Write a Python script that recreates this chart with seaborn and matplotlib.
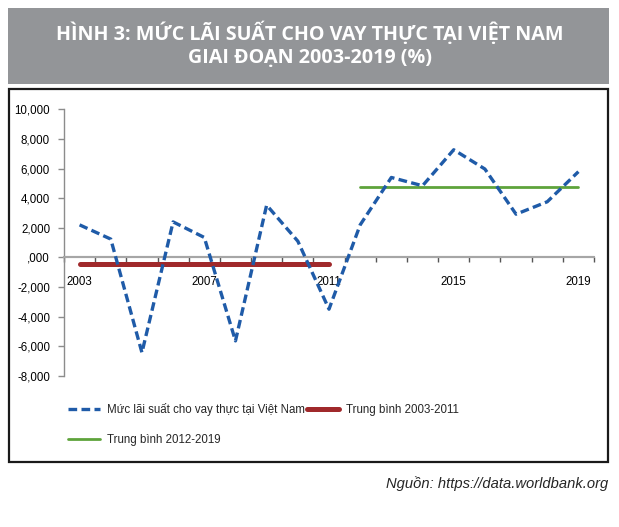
import matplotlib
matplotlib.use("Agg")
import matplotlib.pyplot as plt
from matplotlib.patches import Rectangle
from matplotlib.lines import Line2D
import numpy as np
import pandas as pd
import seaborn as sns

# ---------------- data ----------------
years = [2003, 2004, 2005, 2006, 2007, 2008, 2009, 2010, 2011,
         2012, 2013, 2014, 2015, 2016, 2017, 2018, 2019]
real_rate = [2.2, 1.24, -6.42, 2.4, 1.35, -5.63, 3.53, 1.1, -3.49,
             2.2, 5.4, 4.84, 7.27, 5.97, 2.92, 3.76, 5.79]
avg_2003_2011 = -0.41
avg_2012_2019 = 4.77
period1_years = years[0:9]
period2_years = years[9:]
x_label_years = [2003, 2007, 2011, 2015, 2019]
y_ticks = [-8, -6, -4, -2, 0, 2, 4, 6, 8, 10]
y_tick_labels = ["-8,000", "-6,000", "-4,000", "-2,000", ",000",
                 "2,000", "4,000", "6,000", "8,000", "10,000"]
series_label = "Mức lãi suất cho vay thực tại Việt Nam"
avg1_label = "Trung bình 2003-2011"
avg2_label = "Trung bình 2012-2019"
title_line1 = "HÌNH 3: MỨC LÃI SUẤT CHO VAY THỰC TẠI VIỆT NAM"
title_line2 = "GIAI ĐOẠN 2003-2019 (%)"
source_text = "Nguồn: https://data.worldbank.org"

# ---------------- styling ----------------
sns.set_theme(style="white")
plt.rcParams['font.family'] = ['Liberation Sans', 'DejaVu Sans']

W, H = 619, 527
fig = plt.figure(figsize=(W / 100, H / 100), dpi=100)
fig.patch.set_facecolor("white")

def fx(px):
    return px / W

def fy(py):
    return 1 - py / H

# title box
fig.patches.append(Rectangle((fx(8), fy(84)), fx(609) - fx(8), fy(8) - fy(84),
                             transform=fig.transFigure, facecolor="#939598",
                             edgecolor="none", zorder=0))
fig.text(0.5, fy(33), title_line1, ha="center", va="center", color="white",
         fontsize=14.2, fontweight="bold", family=['Open Sans', 'DejaVu Sans'])
fig.text(0.5, fy(58), title_line2, ha="center", va="center", color="white",
         fontsize=14.2, fontweight="bold", family=['Open Sans', 'DejaVu Sans'])

# chart frame
fig.patches.append(Rectangle((fx(9), fy(462)), fx(608) - fx(9), fy(89) - fy(462),
                             transform=fig.transFigure, facecolor="none",
                             edgecolor="#1a1a1a", linewidth=1.6, zorder=0))

# axes
ax = fig.add_axes([fx(64), fy(376), fx(594) - fx(64), fy(109.3) - fy(376)])
ax.set_facecolor("none")

pos = {y: i for i, y in enumerate(years)}
df = pd.DataFrame({"pos": [pos[y] for y in years], "rate": real_rate})
df1 = pd.DataFrame({"pos": [pos[y] for y in period1_years],
                    "avg": [avg_2003_2011] * len(period1_years)})
df2 = pd.DataFrame({"pos": [pos[y] for y in period2_years],
                    "avg": [avg_2012_2019] * len(period2_years)})

blue = "#1f5ba8"
red = "#a0292b"
green = "#5ea33b"

ax.axhline(0, color="#a6a6a6", linewidth=1.5, zorder=1)
sns.lineplot(data=df1, x="pos", y="avg", ax=ax, color=red, linewidth=3.6,
             solid_capstyle="round", zorder=3)
sns.lineplot(data=df2, x="pos", y="avg", ax=ax, color=green, linewidth=2.0,
             zorder=3)
sns.lineplot(data=df, x="pos", y="rate", ax=ax, color=blue, linewidth=2.4,
             linestyle=(0, (2.6, 1.3)), zorder=4)

ax.set_xlim(-0.5, len(years) - 0.5)
ax.set_ylim(-8, 10)
ax.set_xlabel("")
ax.set_ylabel("")

for s in ["top", "right"]:
    ax.spines[s].set_visible(False)
ax.spines["left"].set_color("#8c8c8c")
ax.spines["left"].set_linewidth(1.0)
ax.spines["bottom"].set_position(("data", 0))

ax.set_yticks(y_ticks)
ax.set_yticklabels(y_tick_labels)
ax.tick_params(axis="y", direction="out", length=4, width=1.0, color="#8c8c8c",
               labelsize=8.3, labelcolor="black", pad=6, left=True)

ax.set_xticks([pos[y] for y in x_label_years])
ax.set_xticklabels([str(y) for y in x_label_years])
ax.set_xticks(np.arange(-0.5, len(years), 1.0), minor=True)
ax.tick_params(axis="x", which="major", length=0, labelsize=8.3,
               labelcolor="black", pad=13.5, bottom=True)
ax.tick_params(axis="x", which="minor", direction="out", length=3.5, width=1.0,
               color="#555555", bottom=True)
# ticks hang from the zero line
ax.spines["bottom"].set_visible(True)
ax.spines["bottom"].set_color("#a6a6a6")
ax.spines["bottom"].set_linewidth(1.5)
ax.grid(False)

# legend
handles = [
    Line2D([], [], color=blue, linewidth=2.4, linestyle=(0, (2.6, 1.3))),
    Line2D([], [], color=green, linewidth=2.0),
    Line2D([], [], color=red, linewidth=3.6, solid_capstyle="round"),
]
labels = [series_label, avg2_label, avg1_label]
fig.legend(handles, labels, ncol=2, loc="upper left",
           bbox_to_anchor=(fx(68), fy(403)), frameon=False, fontsize=8.3,
           handlelength=2.8, handletextpad=0.55, columnspacing=0.2,
           labelspacing=1.55, borderpad=0, borderaxespad=0)

fig.text(fx(608), fy(484), source_text, ha="right", va="center",
         fontsize=10.6, style="italic",
         family=['Liberation Sans Narrow', 'Liberation Sans'])

fig.savefig("out.png", dpi=100)
